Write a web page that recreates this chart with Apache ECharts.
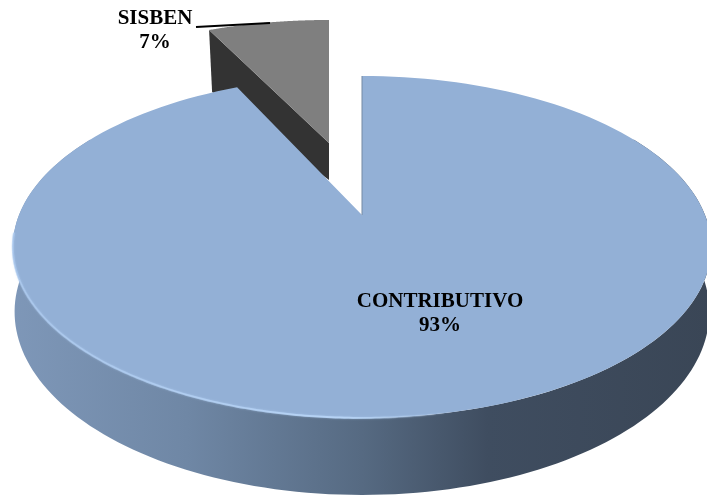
<!DOCTYPE html>
<html>
<head>
<meta charset="utf-8">
<style>html,body{margin:0;padding:0;background:#fff}#chart{width:707px;height:497px}</style>
<script src="https://cdn.jsdelivr.net/npm/echarts@6/dist/echarts.min.js"></script>
</head>
<body>
<div id="chart"></div>
<script>
var categories = ['CONTRIBUTIVO', 'SISBEN']
var values = [93, 7]

var total = values.reduce(function (a, b) { return a + b }, 0)

// perspective of the tilted disc, the centre of the disc lands on (X0,Y0)
var X0 = 362, Y0 = 215, A = 343, B = 165, P = 0.187, H = 62.6

function topPoint(theta) {
    var t = theta * Math.PI / 180
    var u = Math.sin(t), v = Math.cos(t), w = 1 + P * v
    return [X0 + A * u / w, Y0 - B * v / w]
}
function bottomPoint(theta) {
    var p = topPoint(theta)
    var w = 1 + P * Math.cos(theta * Math.PI / 180)
    return [X0 + (p[0] - X0) * 0.995, p[1] + H / w]
}
function arc(fn, a0, a1) {
    var pts = [], n = 160
    for (var i = 0; i <= n; i++) pts.push(fn(a0 + (a1 - a0) * i / n))
    return pts
}

function renderSlice(params, api) {
    var i = params.dataIndex
    var before = 0
    for (var k = 0; k < i; k++) before += values[k]
    var a0 = before / total * 360, a1 = (before + values[i]) / total * 360
    var text = categories[i] + '\n' + values[i] + '%'

    if (i === 0) {
        var face = [[X0, Y0]].concat(arc(topPoint, a0, a1))
        return {
            type: 'group',
            children: [
                {
                    type: 'polygon', z2: 5,
                    shape: { points: arc(topPoint, 60, 300).concat(arc(bottomPoint, 300, 60)) },
                    style: {
                        fill: new echarts.graphic.LinearGradient(0, 0, 1, 0, [
                            { offset: 0, color: '#7e97b8' },
                            { offset: 0.25, color: '#6f87a5' },
                            { offset: 0.5, color: '#566a82' },
                            { offset: 0.68, color: '#3f4d60' },
                            { offset: 1, color: '#3a4656' }
                        ])
                    }
                },
                { type: 'polygon', z2: 6, shape: { points: face }, style: { fill: '#93b0d6' } },
                {
                    type: 'polyline', z2: 7,
                    shape: { points: arc(topPoint, 264, 168) },
                    style: {
                        fill: null, lineWidth: 2, shadowBlur: 2, shadowColor: 'rgba(185,214,248,0.6)',
                        stroke: new echarts.graphic.LinearGradient(0, 0, 1, 0, [
                            { offset: 0, color: 'rgba(170,200,238,0.7)' },
                            { offset: 0.75, color: 'rgba(185,214,248,0.9)' },
                            { offset: 1, color: 'rgba(185,214,248,0)' }
                        ])
                    }
                },
                {
                    type: 'line', z2: 7,
                    shape: { x1: X0, y1: Y0, x2: X0, y2: 76 },
                    style: { stroke: '#7489a3', lineWidth: 1 }
                },
                {
                    type: 'text', z2: 10, x: 440, y: 314,
                    style: {
                        text: text, align: 'center', verticalAlign: 'middle',
                        font: 'bold 21px "Liberation Serif"', lineHeight: 24, fill: '#000'
                    }
                }
            ]
        }
    }

    // exploded slice: same slice, moved up and a bit smaller
    function out(theta) {
        var p = topPoint(theta)
        return [329 + (p[0] - X0) * 0.96, 143 + (p[1] - Y0) * 0.885]
    }
    var c = out(a0)
    return {
        type: 'group',
        children: [
            {
                type: 'polygon', z2: 1,
                shape: { points: [[329, 143], c, [c[0] + 3, c[1] + 62], [329, 180]] },
                style: { fill: '#333333' }
            },
            {
                type: 'polygon', z2: 2,
                shape: { points: [[329, 143]].concat(arc(out, a0, a1)) },
                style: { fill: '#7f7f7f' }
            },
            {
                type: 'line', z2: 3,
                shape: { x1: 196, y1: 27, x2: 270, y2: 23 },
                style: { stroke: '#000', lineWidth: 2 }
            },
            {
                type: 'text', z2: 10, x: 155, y: 31,
                style: {
                    text: text, align: 'center', verticalAlign: 'middle',
                    font: 'bold 21px "Liberation Serif"', lineHeight: 24, fill: '#000'
                }
            }
        ]
    }
}

var myChart = echarts.init(document.getElementById('chart'))
myChart.setOption({
    animation: false,
    backgroundColor: '#fff',
    series: [{
        type: 'custom',
        coordinateSystem: 'none',
        renderItem: renderSlice,
        data: values
    }]
})
</script>
</body>
</html>
